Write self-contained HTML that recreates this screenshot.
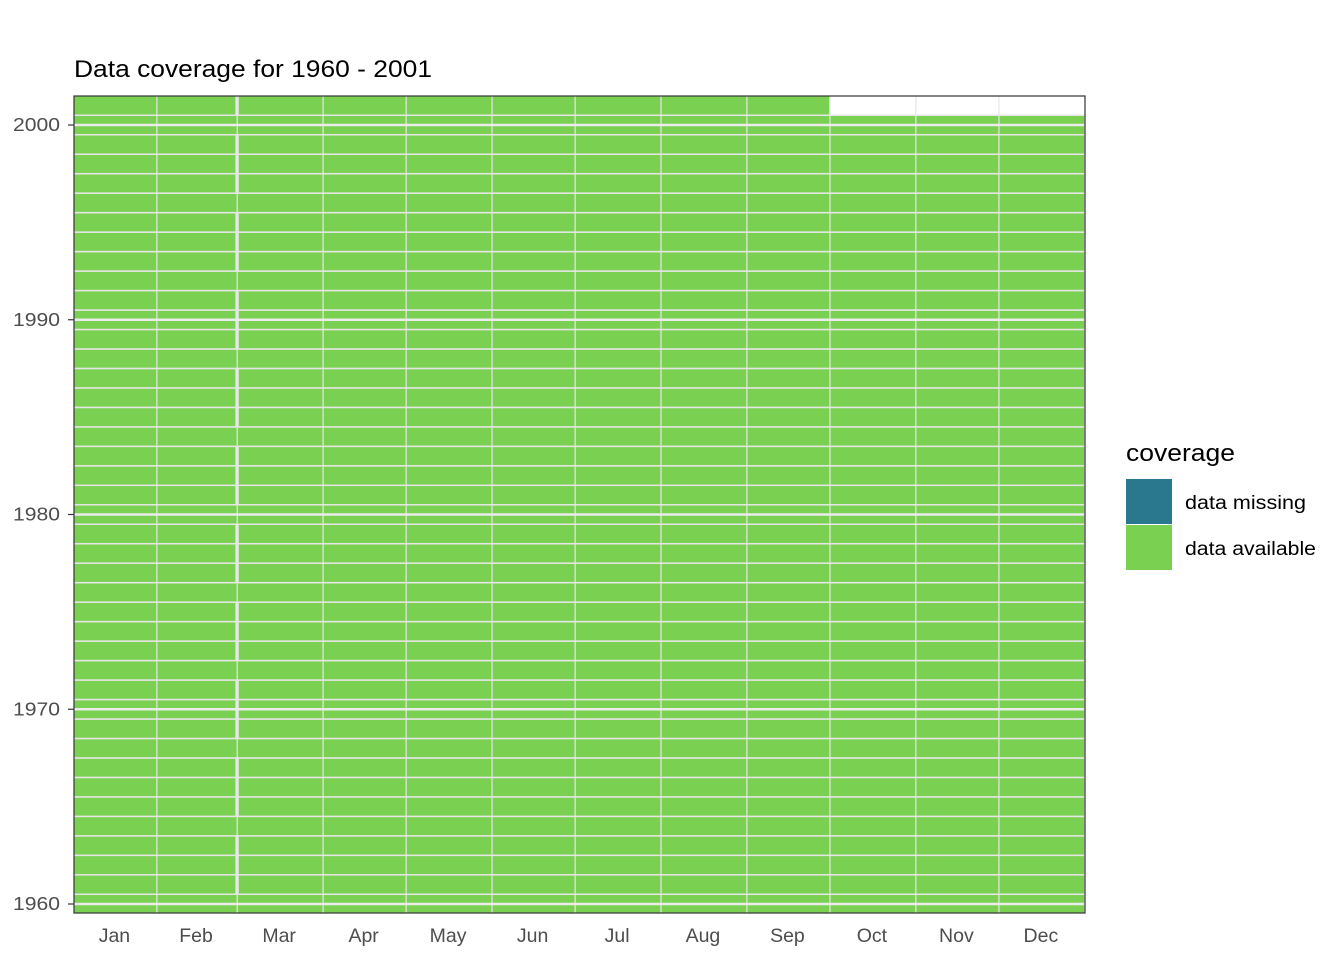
<!DOCTYPE html>
<html><head><meta charset="utf-8"><style>
body{margin:0;background:#fff;font-family:"Liberation Sans",Arial,sans-serif;}
</style></head><body>
<svg id="chart" width="1344" height="960" xmlns="http://www.w3.org/2000/svg" font-family="Liberation Sans, Arial, sans-serif">
<text x="74" y="77" font-size="24" textLength="358" lengthAdjust="spacingAndGlyphs" fill="#000">Data coverage for 1960 - 2001</text>
<defs><clipPath id="pc"><rect x="74" y="96" width="1011" height="817"/></clipPath></defs>
<g id="tiles" clip-path="url(#pc)"></g>
<g id="grid" clip-path="url(#pc)"></g>
<rect x="74" y="96" width="1011" height="817" fill="none" stroke="#333" stroke-width="1.2"/>
<g id="axes"></g>
<g>
<text x="1126" y="461" font-size="24" textLength="109" lengthAdjust="spacingAndGlyphs" fill="#000">coverage</text>
<rect x="1126" y="479" width="46" height="45" fill="#2a788e"/>
<rect x="1126" y="525" width="46" height="45" fill="#7ad151"/>
<text x="1185" y="509" font-size="19" textLength="121" lengthAdjust="spacingAndGlyphs" fill="#000">data missing</text>
<text x="1185" y="555" font-size="19" textLength="131" lengthAdjust="spacingAndGlyphs" fill="#000">data available</text>
</g>
</svg>
<script>
const years=[1960,1961,1962,1963,1964,1965,1966,1967,1968,1969,1970,1971,1972,1973,1974,1975,1976,1977,1978,1979,1980,1981,1982,1983,1984,1985,1986,1987,1988,1989,1990,1991,1992,1993,1994,1995,1996,1997,1998,1999,2000,2001];
const lastDayCovered=[366,366,366,366,366,366,366,366,366,366,366,366,366,366,366,366,366,366,366,366,366,366,366,366,366,366,366,366,366,366,366,366,366,366,366,366,366,366,366,366,366,274];
const monthLabels=["Jan","Feb","Mar","Apr","May","Jun","Jul","Aug","Sep","Oct","Nov","Dec"];
const monthStartDays=[0,31,60,91,121,152,182,213,244,274,305,335];
const yTicks=[1960,1970,1980,1990,2000];
const NS="http://www.w3.org/2000/svg";
const xS=d=>71+2.77*d;
const yS=y=>904-(y-1960)*19.475;
function mk(tag,attrs,parent){const e=document.createElementNS(NS,tag);for(const k in attrs)e.setAttribute(k,attrs[k]);parent.appendChild(e);return e;}
const tiles=document.getElementById('tiles'),grid=document.getElementById('grid'),axes=document.getElementById('axes');
const leap=y=>(y%4===0&&y%100!==0)||y%400===0;
years.forEach((yr,i)=>{
  const top=yS(yr)-9.74,h=19.475;
  const end=lastDayCovered[i];
  let segs;
  if(leap(yr)) segs=[[0,end]];
  else segs=[[0,Math.min(59.6,end)],[60.3,end]];
  segs.forEach(s=>{ if(s[1]<=s[0])return;
    const r=mk('rect',{x:xS(s[0]),y:top,width:xS(s[1])-xS(s[0]),height:h,fill:'#7ad151',stroke:'#e6e6e6','stroke-width':1.5},tiles);
    
    
  });
});
monthStartDays.forEach((d,i)=>{ if(i===0)return;
  const l=mk('line',{x1:xS(d),x2:xS(d),y1:96,y2:913,stroke:'#e6e6e6','stroke-width':1.2},grid);
  
  
});
yTicks.forEach(t=>{
  const y=yS(t);
  const g=mk('line',{x1:74,x2:1085,y1:y,y2:y,stroke:'#ebebeb','stroke-width':2.5},grid);
  
  
  const tk=mk('line',{x1:68,x2:74,y1:y,y2:y,stroke:'#333','stroke-width':1.2},axes);
  
  
  const tx=mk('text',{x:60,y:y+6,'font-size':18.5,fill:'#4d4d4d','text-anchor':'end',textLength:47,lengthAdjust:'spacingAndGlyphs'},axes);
  tx.textContent=t;
  
  
});
monthLabels.forEach((m,i)=>{
  const s=monthStartDays[i],e=i<11?monthStartDays[i+1]:366;
  const cx=(Math.max(xS(s),74)+xS(e))/2-1;
  const tx=mk('text',{x:cx,y:942,'font-size':19.5,fill:'#4d4d4d','text-anchor':'middle'},axes);
  tx.textContent=m;
  
  
});
</script>
</body></html>
